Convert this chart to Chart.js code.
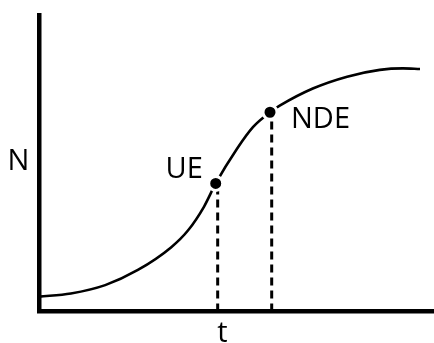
<!DOCTYPE html>
<html>
<head>
<meta charset="utf-8">
<script src="https://cdn.jsdelivr.net/npm/chart.js@4"></script>
<style>
  html, body { margin: 0; padding: 0; background: #fff; overflow: hidden; }
  #wrap { width: 434px; height: 343px; position: relative; }
</style>
</head>
<body>
<div id="wrap"><canvas id="growthChart"></canvas></div>
<script>
// growth curve N(t) (axis units 0-10)
const curveT = [0, 0.81, 1.68, 2.51, 3.35, 3.78, 4.19, 4.485, 5.03, 5.43, 5.863, 6.12, 6.95, 7.82, 8.65, 9.24, 9.67];
const curveN = [0.50, 0.61, 0.89, 1.40, 2.16, 2.73, 3.54, 4.32, 5.50, 6.22, 6.72, 6.95, 7.52, 7.92, 8.15, 8.20, 8.18];

// marked points and their drop lines
const markerNames = ['UE', 'NDE'];
const markerT = [4.485, 5.863];
const markerN = [4.32, 6.72];
const dropT = [4.535, 5.906];

const axisLabelY = 'N';
const axisLabelX = 't';

function toPoints(xs, ys) {
  return xs.map(function (x, i) { return { x: x, y: ys[i] }; });
}

function dropLine(i) {
  return {
    data: [{ x: dropT[i], y: 0 }, { x: dropT[i], y: markerN[i] }],
    borderColor: '#000',
    borderWidth: 3,
    borderDash: [8, 5],
    pointRadius: 0,
    fill: false,
    order: 2
  };
}

const labelFont = '29px "Open Sans"';

// text labels, placed by glyph box
const labelPlugin = {
  id: 'labels',
  afterDatasetsDraw: function (chart) {
    const ctx = chart.ctx;
    const xs = chart.scales.x;
    const ys = chart.scales.y;
    ctx.save();
    ctx.font = labelFont;
    ctx.fillStyle = '#000';
    ctx.textAlign = 'left';
    ctx.textBaseline = 'alphabetic';

    function drawLeft(text, left, baseline) {
      const m = ctx.measureText(text);
      ctx.fillText(text, left + m.actualBoundingBoxLeft, baseline);
    }
    function drawRight(text, right, baseline) {
      const m = ctx.measureText(text);
      ctx.fillText(text, right - m.actualBoundingBoxRight, baseline);
    }

    const ueX = xs.getPixelForValue(markerT[0]);
    const ueY = ys.getPixelForValue(markerN[0]);
    const ndeX = xs.getPixelForValue(markerT[1]);
    const ndeY = ys.getPixelForValue(markerN[1]);

    drawRight(markerNames[0], ueX - 14, ueY - 5);
    drawLeft(markerNames[1], ndeX + 23, ndeY + 16);

    drawLeft(axisLabelY, 9.5, 170);
    drawLeft(axisLabelX, xs.getPixelForValue(dropT[0]) - 0.5, 342);
    ctx.restore();
  }
};

const axisStyle = {
  display: true,
  grid: { display: false, drawTicks: false, tickLength: 0 },
  ticks: { display: false },
  border: { display: true, color: '#000', width: 4.5 }
};

new Chart(document.getElementById('growthChart'), {
  type: 'line',
  data: {
    datasets: [
      {
        data: toPoints(markerT, markerN),
        showLine: false,
        pointRadius: 7,
        pointHoverRadius: 7,
        pointBackgroundColor: '#000',
        pointBorderColor: '#fff',
        pointBorderWidth: 3,
        order: 1
      },
      dropLine(0),
      dropLine(1),
      {
        data: toPoints(curveT, curveN),
        borderColor: '#000',
        borderWidth: 2.6,
        pointRadius: 0,
        cubicInterpolationMode: 'monotone',
        fill: false,
        order: 3
      }
    ]
  },
  options: {
    responsive: true,
    maintainAspectRatio: false,
    animation: false,
    layout: { autoPadding: false, padding: { left: 39, top: 15, right: 1, bottom: 31.5 } },
    plugins: { legend: { display: false }, tooltip: { enabled: false } },
    scales: {
      x: Object.assign({ type: 'linear', min: 0, max: 10 }, axisStyle),
      y: Object.assign({ type: 'linear', min: 0, max: 10 }, axisStyle)
    }
  },
  plugins: [labelPlugin]
});
</script>
</body>
</html>
